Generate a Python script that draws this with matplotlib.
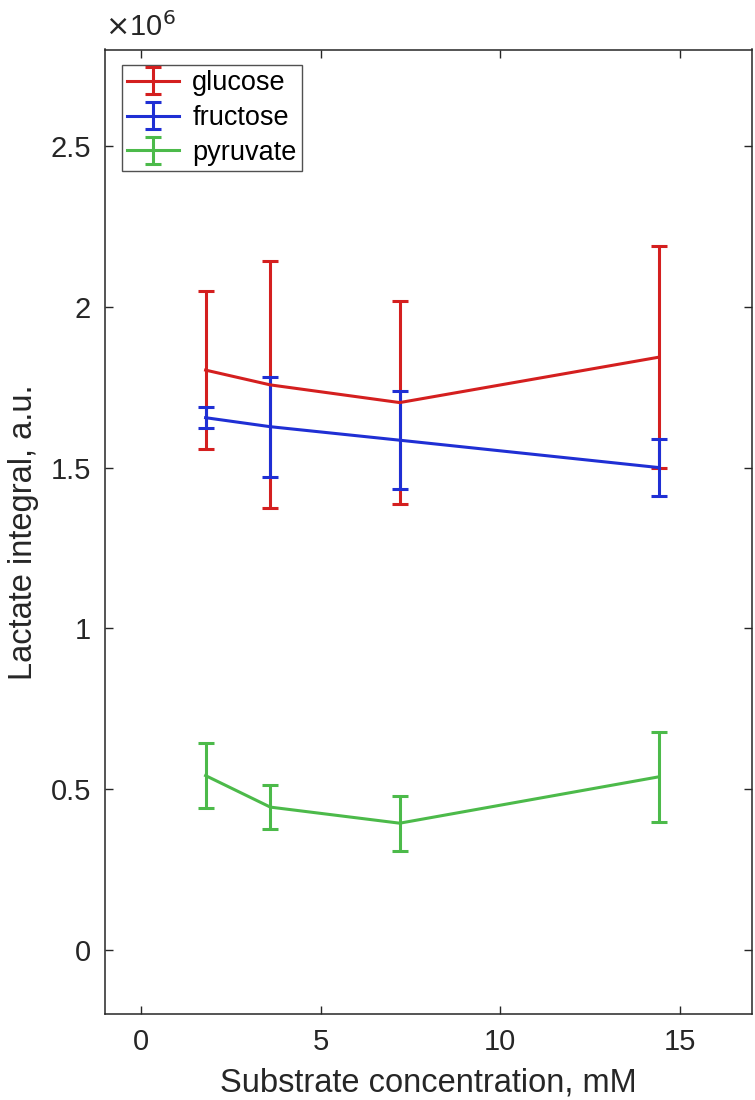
import matplotlib
matplotlib.use('Agg')
from matplotlib import pyplot as plt
from matplotlib.ticker import FuncFormatter

plt.rcParams['font.family'] = ['Liberation Sans', 'DejaVu Sans']

# substrate concentrations (mM)
conc = [1.8, 3.6, 7.2, 14.4]

# lactate integral (a.u.) and error bars
glucose = [1.803e6, 1.757e6, 1.702e6, 1.843e6]
glucose_err = [0.245e6, 0.384e6, 0.316e6, 0.345e6]
fructose = [1.655e6, 1.627e6, 1.585e6, 1.500e6]
fructose_err = [0.032e6, 0.156e6, 0.152e6, 0.088e6]
pyruvate = [0.542e6, 0.444e6, 0.394e6, 0.538e6]
pyruvate_err = [0.102e6, 0.069e6, 0.085e6, 0.139e6]

series = [
    ('glucose', glucose, glucose_err, '#d41f1f'),
    ('fructose', fructose, fructose_err, '#1f2fd4'),
    ('pyruvate', pyruvate, pyruvate_err, '#4cba4a'),
]

DARK = '#262626'

fig = plt.figure(figsize=(7.55, 11.0), dpi=100)
ax = fig.add_axes([0.139, 0.078, 0.857, 0.877])

for name, vals, err, col in series:
    ax.errorbar(conc, vals, yerr=err, color=col, lw=2.2, elinewidth=2.2,
                capsize=6, capthick=2.2, label=name)

ax.set_xlim(-1, 17)
ax.set_ylim(-0.2e6, 2.8e6)
ax.set_xticks([0, 5, 10, 15])
ax.set_yticks([0, 0.5e6, 1e6, 1.5e6, 2e6, 2.5e6])
ax.yaxis.set_major_formatter(FuncFormatter(lambda v, p: f'{v / 1e6:g}'))

ax.tick_params(direction='in', length=6, width=1, colors=DARK,
               labelsize=21, top=True, right=True, pad=10)
for side in ax.spines.values():
    side.set_color(DARK)
    side.set_linewidth(1.1)

ax.set_xlabel('Substrate concentration, mM', fontsize=23.5, color=DARK,
              labelpad=8)
ax.set_ylabel('Lactate integral, a.u.', fontsize=23.5, color=DARK,
              labelpad=8)

ax.text(0.0, 1.008, r'$\times$10$^{6}$', transform=ax.transAxes,
        fontsize=21, color=DARK, ha='left', va='bottom')

leg = ax.legend(loc='upper left', fontsize=19.5, frameon=True,
                fancybox=False, edgecolor=DARK, borderpad=0.2,
                labelspacing=0.32, handlelength=1.9, handletextpad=0.5,
                borderaxespad=0, bbox_to_anchor=(0.026, 0.984))
leg.get_frame().set_linewidth(1.0)

plt.savefig('out.png', dpi=100)
